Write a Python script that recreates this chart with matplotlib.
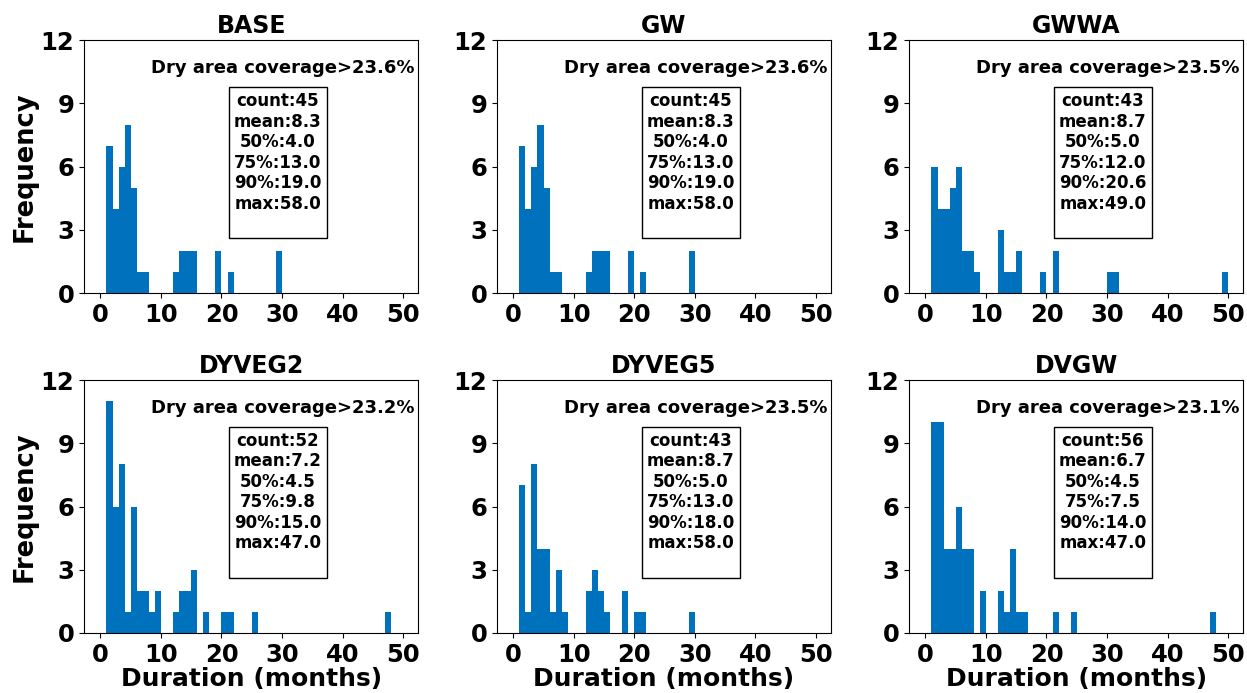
import matplotlib.pyplot as plt

plt.rcParams['font.family'] = ['DejaVu Sans']
plt.rcParams['font.weight'] = 'bold'

names = ["BASE", "GW", "GWWA", "DYVEG2", "DYVEG5", "DVGW"]
coverage = ["23.6", "23.6", "23.5", "23.2", "23.5", "23.1"]

# histogram bins (left edge in months, width 1) and their frequencies
base_month = [1, 2, 3, 4, 5, 6, 7, 12, 13, 14, 15, 19, 21, 29]
base_freq = [7, 4, 6, 8, 5, 1, 1, 1, 2, 2, 2, 2, 1, 2]
gw_month = [1, 2, 3, 4, 5, 6, 7, 12, 13, 14, 15, 19, 21, 29]
gw_freq = [7, 4, 6, 8, 5, 1, 1, 1, 2, 2, 2, 2, 1, 2]
gwwa_month = [1, 2, 3, 4, 5, 6, 7, 8, 12, 13, 14, 15, 19, 21, 30, 31, 49]
gwwa_freq = [6, 4, 4, 5, 6, 2, 2, 1, 3, 1, 1, 2, 1, 2, 1, 1, 1]
dyveg2_month = [1, 2, 3, 4, 5, 6, 7, 8, 9, 12, 13, 14, 15, 17, 20, 21, 25, 47]
dyveg2_freq = [11, 6, 8, 1, 6, 2, 2, 1, 2, 1, 2, 2, 3, 1, 1, 1, 1, 1]
dyveg5_month = [1, 2, 3, 4, 5, 6, 7, 8, 12, 13, 14, 15, 18, 20, 21, 29]
dyveg5_freq = [7, 1, 8, 4, 4, 1, 3, 1, 2, 3, 2, 1, 2, 1, 1, 1]
dvgw_month = [1, 2, 3, 4, 5, 6, 7, 9, 12, 13, 14, 15, 16, 21, 24, 47]
dvgw_freq = [10, 10, 4, 4, 6, 4, 4, 2, 2, 1, 4, 1, 1, 1, 1, 1]

# summary statistics shown in the boxes
counts = [45, 45, 43, 52, 43, 56]
means = [8.3, 8.3, 8.7, 7.2, 8.7, 6.7]
p50 = [4.0, 4.0, 5.0, 4.5, 5.0, 4.5]
p75 = [13.0, 13.0, 12.0, 9.8, 13.0, 7.5]
p90 = [19.0, 19.0, 20.6, 15.0, 18.0, 14.0]
maxes = [58.0, 58.0, 49.0, 47.0, 58.0, 47.0]

months = [base_month, gw_month, gwwa_month, dyveg2_month, dyveg5_month, dvgw_month]
freqs = [base_freq, gw_freq, gwwa_freq, dyveg2_freq, dyveg5_freq, dvgw_freq]

fig = plt.figure(figsize=(12.47, 6.93), dpi=100)
lefts = [0.0674, 0.3985, 0.729]
bottoms = [0.577, 0.0866]
w, h = 0.268, 0.365

for i, name in enumerate(names):
    r, c = divmod(i, 3)
    ax = fig.add_axes([lefts[c], bottoms[r], w, h])
    ax.bar(months[i], freqs[i], width=1, align="edge", color="#0072bd")
    ax.set_xlim(-2.7, 52.5)
    ax.set_ylim(0, 12)
    ax.set_yticks([0, 3, 6, 9, 12])
    ax.set_xticks([0, 10, 20, 30, 40, 50])
    ax.tick_params(labelsize=17.5)
    ax.set_title(name, fontsize=17, fontweight="bold", pad=5)
    if c == 0:
        ax.set_ylabel("Frequency", fontsize=18.5, fontweight="bold", labelpad=2)
    if r == 1:
        ax.set_xlabel("Duration (months)", fontsize=18, fontweight="bold", labelpad=0)
    ax.text(0.99, 0.89, f"Dry area coverage>{coverage[i]}%", transform=ax.transAxes,
            ha="right", va="center", fontsize=13, fontweight="bold")
    stats = (f"count:{counts[i]}\nmean:{means[i]}\n50%:{p50[i]}\n75%:{p75[i]}\n"
             f"90%:{p90[i]}\nmax:{maxes[i]}\n")
    ax.text(0.58, 0.795, stats, transform=ax.transAxes, ha="center", va="top",
            multialignment="center", fontsize=12, fontweight="bold", linespacing=1.18,
            bbox=dict(boxstyle="square,pad=0.3", fc="white", ec="black", lw=1))

fig.savefig("out.png", dpi=100)
